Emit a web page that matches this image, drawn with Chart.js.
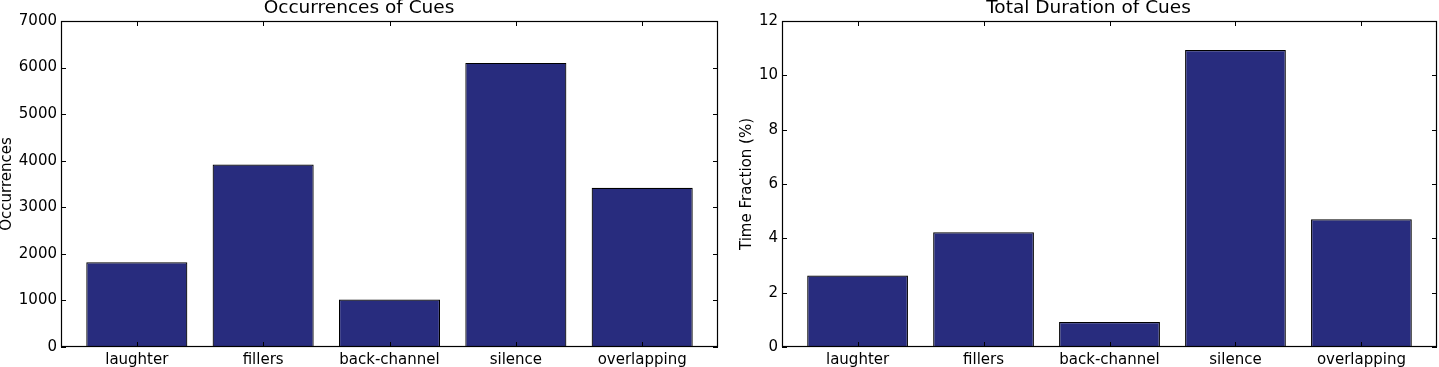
<!DOCTYPE html>
<html>
<head>
<meta charset="utf-8">
<script src="https://cdn.jsdelivr.net/npm/chart.js@4"></script>
<style>
  body { margin: 0; background: #fff; }
  .wrap { position: absolute; top: 0; height: 367px; }
  #left { left: 0; width: 720px; }
  #right { left: 720px; width: 719px; }
</style>
</head>
<body>
<div class="wrap" id="left"><canvas id="occ"></canvas></div>
<div class="wrap" id="right"><canvas id="dur"></canvas></div>
<script>
const categories = ['laughter', 'fillers', 'back-channel', 'silence', 'overlapping'];
const occurrences = [1820, 3920, 1020, 6100, 3420];
const timeFraction = [2.63, 4.22, 0.92, 10.93, 4.70];
const occTicks = { min: 0, max: 7000, step: 1000 };
const durTicks = { min: 0, max: 12, step: 2 };

const FONT = 'DejaVu Sans';
const BAR = '#282c7e';

// matplotlib style box with inward ticks on all sides
const frame = {
  id: 'frame',
  afterDatasetsDraw(chart) {
    const { ctx, chartArea: a, scales: { x, y } } = chart;
    ctx.save();
    ctx.strokeStyle = '#000';
    ctx.lineWidth = 1;
    ctx.beginPath();
    x.ticks.forEach((t, i) => {
      const px = Math.round(x.getPixelForTick(i)) + 0.5;
      ctx.moveTo(px, a.bottom); ctx.lineTo(px, a.bottom - 5);
      ctx.moveTo(px, a.top); ctx.lineTo(px, a.top + 5);
    });
    y.ticks.forEach((t, i) => {
      const py = Math.round(y.getPixelForTick(i)) + 0.5;
      ctx.moveTo(a.left, py); ctx.lineTo(a.left + 5, py);
      ctx.moveTo(a.right, py); ctx.lineTo(a.right - 5, py);
    });
    ctx.stroke();
    ctx.lineWidth = 1.2;
    ctx.strokeRect(a.left + 0.5, a.top + 0.5, a.width - 1, a.height - 1);
    ctx.restore();
  }
};

function makeChart(id, title, yTitle, values, t, yWidth, padLeft) {
  return new Chart(id, {
    type: 'bar',
    data: {
      datasets: [{
        data: categories.map((c, i) => ({ x: i, y: values[i] })),
        backgroundColor: BAR,
        borderColor: '#000',
        borderWidth: 1.2,
        categoryPercentage: 1,
        barPercentage: 0.8,
      }],
    },
    options: {
      responsive: true,
      maintainAspectRatio: false,
      animation: false,
      layout: { padding: { left: padLeft, right: 2, top: 0, bottom: 0 } },
      plugins: {
        legend: { display: false },
        tooltip: { enabled: false },
        title: {
          display: true,
          text: title,
          color: '#000',
          font: { family: FONT, size: 18.5, weight: 'normal', lineHeight: '17px' },
          padding: { top: 0, bottom: 4 },
        },
      },
      scales: {
        x: {
          type: 'linear',
          offset: false,
          min: -0.6,
          max: 4.6,
          grid: { display: false, drawTicks: false, offset: false },
          border: { display: false },
          ticks: {
            stepSize: 1,
            includeBounds: false,
            autoSkip: false,
            maxRotation: 0,
            padding: 4,
            color: '#000',
            font: { family: FONT, size: 15 },
            callback: v => categories[v] ?? '',
          },
          afterFit: s => { s.height = 20; },
        },
        y: {
          min: t.min,
          max: t.max,
          grid: { display: false, drawTicks: false },
          border: { display: false },
          ticks: {
            stepSize: t.step,
            padding: 4,
            color: '#000',
            font: { family: FONT, size: 15 },
            callback: v => String(v),
          },
          title: {
            display: true,
            text: yTitle,
            color: '#000',
            font: { family: FONT, size: 15, lineHeight: 1 },
            padding: 0,
          },
          afterFit: s => { s.width = yWidth; },
        },
      },
    },
    plugins: [frame],
  });
}

makeChart('occ', 'Occurrences of Cues', 'Occurrences', occurrences, occTicks, 61, 0);
makeChart('dur', 'Total Duration of Cues', 'Time Fraction (%)', timeFraction, durTicks, 42, 20);
</script>
</body>
</html>
